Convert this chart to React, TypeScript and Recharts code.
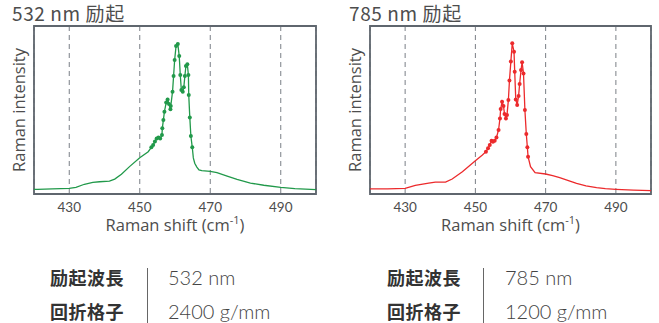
import React from "react";
import {
  LineChart,
  Line,
  XAxis,
  YAxis,
  CartesianGrid,
  ReferenceArea,
  Label,
} from "recharts";

// Raman shift (cm-1) and intensity (a.u., 0-100 of the plot height)
const greenShift = [
  420, 421, 425.2, 430, 431.9, 434.3, 436.7, 438.6, 441.4, 442.9, 444.8, 447.1, 450, 452.4,
  453.3, 453.8, 454.3, 454.8, 455.3, 455.8, 456.3, 456.4, 456.7, 457.0, 457.5, 457.9, 458.3,
  458.7, 458.8, 459.3, 459.6, 459.9, 460.3, 460.8, 461.2, 461.5, 461.8, 462.2, 462.5, 462.8,
  463.1, 463.5, 463.8, 463.9, 464.2, 464.5, 464.9,
  465.2, 465.6, 466.2, 466.8, 467.6, 470, 471.9, 474.8, 477.6, 481.4, 485.2, 490, 494, 500,
];
const greenIntensity = [
  2.8, 2.8, 3.0, 3.4, 4.0, 5.8, 6.9, 7.3, 7.7, 8.9, 11.7, 16.3, 21.6, 25.2,
  27.8, 29.2, 31.2, 33.1, 33.7, 33.1, 35.1, 39.1, 44.0, 49.0, 54.4, 56.3, 53.6,
  50.4, 52.4, 60.9, 70.2, 79.8, 88.1, 89.3, 82.1, 70.8, 61.9, 60.9, 63.5, 70.2,
  76.2, 77.2, 70.8, 58.9, 45.6, 34.5, 27.8,
  21.5, 18.3, 16.0, 14.3, 13.9, 13.5, 12.7, 10.7, 8.7, 6.5, 5.2, 4.0, 3.2, 2.6,
];
const greenMarked = [453.3, 464.9];

const redShift = [
  420, 425, 430, 432.9, 436.7, 438.6, 441.5, 443.4, 446.3, 450, 452,
  453.0, 453.6, 454.1, 454.6, 455.0, 455.5, 456.0, 456.6, 457.0, 457.2, 457.6, 458.0, 458.3,
  458.7, 459.0, 459.4, 459.7, 460.1, 460.5, 461.0, 461.2, 461.5, 461.9, 462.3, 462.6, 463.0,
  463.3, 463.7, 464.1, 464.5, 464.8, 465.0,
  465.7, 467, 470, 472, 474, 476.5, 478.8, 481.5, 484.5, 487, 490, 495, 500,
];
const redIntensity = [
  3.0, 3.1, 3.4, 5.2, 6.5, 7.1, 7.1, 8.9, 13.3, 19.8, 23.2,
  25.2, 27.2, 29.2, 31.7, 31.1, 31.7, 33.7, 38.1, 45.0, 50.6, 54.9, 52.4, 47.6,
  45.0, 47.0, 56.0, 67.5, 78.8, 89.7, 84.7, 72.8, 56.3, 53.0, 58.3, 65.5, 73.8,
  78.4, 71.8, 50.0, 35.7, 27.8, 22.2,
  16.3, 12.7, 11.9, 10.9, 9.7, 8.0, 6.3, 4.9, 3.8, 3.2, 2.8, 2.3, 2.0,
];
const redMarked = [452.9, 465.1];

const xTicks = [430, 450, 470, 490];

const panels = [
  { title: "532 nm 励起", wavelength: "532 nm", grating: "2400 g/mm" },
  { title: "785 nm 励起", wavelength: "785 nm", grating: "1200 g/mm" },
];

const TEXT = "#4d4d4d";
const FRAME = "#5f666e";

function Spectrum({
  shift,
  intensity,
  marked,
  color,
  yAxisWidth,
  width,
  rightMargin,
}: {
  shift: number[];
  intensity: number[];
  marked: number[];
  color: string;
  yAxisWidth: number;
  width: number;
  rightMargin: number;
}) {
  const data = shift.map((x, i) => ({ x, y: intensity[i] }));
  return (
    <LineChart
      width={width}
      height={240}
      data={data}
      margin={{ top: 26, right: rightMargin, bottom: 6, left: 0 }}
    >
      <CartesianGrid
        horizontal={false}
        stroke="#7a7f86"
        strokeDasharray="5 4"
        strokeWidth={1}
      />
      <XAxis
        dataKey="x"
        type="number"
        domain={[420, 500]}
        ticks={xTicks}
        tickLine={false}
        axisLine={false}
        height={40}
        tick={{ fill: TEXT, fontSize: 13.5, fontFamily: "Lato, sans-serif" }}
      >
        <Label
          content={({ viewBox }: any) => (
            <text
              x={viewBox.x + viewBox.width / 2}
              y={viewBox.y + 37}
              textAnchor="middle"
              fill={TEXT}
              fontSize={16.5}
              fontFamily="'Open Sans', sans-serif"
            >
              Raman shift (cm
              <tspan fontSize={11} dy={-7}>
                -1
              </tspan>
              <tspan dy={7}>)</tspan>
            </text>
          )}
        />
      </XAxis>
      <YAxis
        type="number"
        domain={[0, 100]}
        width={yAxisWidth}
        tick={false}
        tickLine={false}
        axisLine={false}
      >
        <Label
          content={({ viewBox }: any) => {
            const cx = viewBox.x + viewBox.width - 9;
            const cy = viewBox.y + viewBox.height / 2;
            return (
              <text
                x={cx}
                y={cy}
                transform={`rotate(-90 ${cx} ${cy})`}
                textAnchor="middle"
                fill={TEXT}
                fontSize={16.5}
                fontFamily="'Open Sans', sans-serif"
              >
                Raman intensity
              </text>
            );
          }}
        />
      </YAxis>
      <ReferenceArea
        x1={420}
        x2={500}
        y1={0}
        y2={100}
        fill="none"
        stroke={FRAME}
        strokeWidth={1.8}
        fillOpacity={0}
      />
      <Line
        type="linear"
        dataKey="y"
        stroke={color}
        strokeWidth={1.3}
        isAnimationActive={false}
        dot={(p: any) =>
          p.payload.x >= marked[0] && p.payload.x <= marked[1] ? (
            <circle key={p.index} cx={p.cx} cy={p.cy} r={2} fill={color} />
          ) : (
            <g key={p.index} />
          )
        }
        activeDot={false}
      />
    </LineChart>
  );
}

function Table({ left, line, value, wl, gr }: any) {
  const lab: React.CSSProperties = {
    position: "absolute",
    left,
    fontFamily: "'Noto Sans CJK JP', sans-serif",
    fontWeight: 700,
    fontSize: 18,
    color: "#333",
    letterSpacing: 0.5,
    lineHeight: "20px",
  };
  const val: React.CSSProperties = {
    position: "absolute",
    left: value,
    fontFamily: "Lato, sans-serif",
    fontWeight: 300,
    fontSize: 20,
    color: "#444",
    lineHeight: "20px",
  };
  return (
    <>
      <div style={{ ...lab, top: 267 }}>励起波長</div>
      <div style={{ ...lab, top: 301 }}>回折格子</div>
      <div
        style={{
          position: "absolute",
          left: line,
          top: 268,
          width: 1,
          height: 55,
          background: "#666",
        }}
      />
      <div style={{ ...val, top: 267 }}>{wl}</div>
      <div style={{ ...val, top: 301 }}>{gr}</div>
    </>
  );
}

export default function App() {
  const title: React.CSSProperties = {
    position: "absolute",
    top: 1,
    fontFamily: "'Noto Sans CJK JP', sans-serif",
    fontSize: 19,
    color: TEXT,
    letterSpacing: 0.6,
    lineHeight: "24px",
  };
  return (
    <div
      style={{
        position: "absolute",
        left: 0,
        top: 0,
        width: 659,
        height: 323,
        background: "#fff",
      }}
    >
      <div style={{ position: "absolute", left: 0, top: 0 }}>
        <Spectrum
          shift={greenShift}
          intensity={greenIntensity}
          marked={greenMarked}
          color="#21994a"
          yAxisWidth={34}
          width={330}
          rightMargin={14}
        />
      </div>
      <div style={{ position: "absolute", left: 330, top: 0 }}>
        <Spectrum
          shift={redShift}
          intensity={redIntensity}
          marked={redMarked}
          color="#ec2a2c"
          yAxisWidth={40}
          width={329}
          rightMargin={8}
        />
      </div>
      <div style={{ ...title, left: 12 }}>{panels[0].title}</div>
      <div style={{ ...title, left: 349 }}>{panels[1].title}</div>
      <Table left={50} line={147} value={168} wl={panels[0].wavelength} gr={panels[0].grating} />
      <Table left={387} line={483} value={505} wl={panels[1].wavelength} gr={panels[1].grating} />
    </div>
  );
}
